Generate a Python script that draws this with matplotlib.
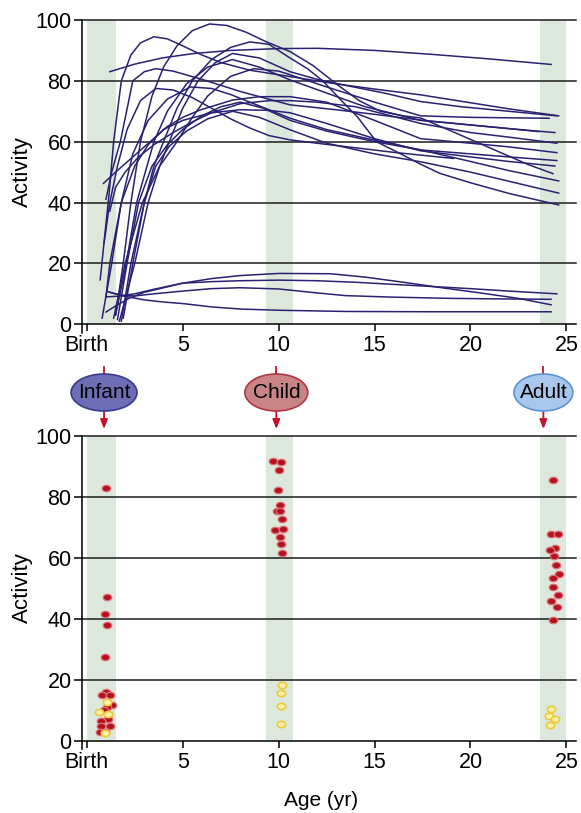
import matplotlib
matplotlib.use('Agg')
import matplotlib.pyplot as plt
from matplotlib.patches import Ellipse
from matplotlib.lines import Line2D
from matplotlib.path import Path
from matplotlib.transforms import Affine2D, blended_transform_factory

plt.rcParams['font.family'] = ['Liberation Sans', 'DejaVu Sans']

# Curvas de actividad por edad (panel superior)
curve_age = [
    [1.2, 2.5, 4.0, 5.6, 7.5, 10, 12, 15, 18, 21, 24.2],
    [0.7, 0.95, 1.15, 1.4, 1.8, 2.3, 2.8, 3.5, 4.2, 5.0, 6.0, 7.0, 8.5, 10.6, 13, 15, 17.4, 20, 22, 24.6],
    [1.5, 1.9, 2.3, 2.8, 3.4, 4.0, 4.7, 5.5, 6.4, 7.3, 8.3, 9.3, 10.6, 11.8, 13, 14.2, 15.3, 16.5, 17.4, 19, 21, 23, 24.3],
    [1.9, 2.4, 3.0, 3.5, 4.0, 4.7, 5.5, 6.5, 7.5, 8.5, 9.5, 10.6, 11.5, 12.3, 13.2, 14.1, 15.1, 16.3, 17.4, 18.4, 20, 22, 24.6],
    [1.7, 2.5, 3.2, 3.8, 4.3, 5.0, 5.8, 6.7, 7.6, 9.0, 10.6, 12, 13.5, 15.5, 17.4, 19.5, 22, 24.5],
    [1.5, 2.0, 2.6, 3.5, 4.2, 5.2, 6.3, 7.6, 9.0, 10.6, 12.5, 14.5, 17.4, 20, 22, 24.4],
    [1.0, 1.3, 1.75, 2.4, 3.0, 3.6, 4.5, 6, 8, 10.6, 13, 15, 17.4, 20, 22, 23.57],
    [1.4, 2.0, 2.9, 3.8, 4.7, 5.5, 6.3, 7.5, 8.7, 10.0, 10.6, 12.5, 15, 17.4, 20, 24.1],
    [0.9, 1.2, 1.6, 2.1, 2.8, 3.6, 4.5, 5.5, 6.5, 7.5, 8.5, 9.5, 10.6, 12, 14, 16, 19.1],
    [0.87, 1.5, 2.4, 3.3, 4.2, 5.0, 5.9, 7.6, 9, 10.6, 12.5, 15, 17.4, 20, 22, 24.5],
    [0.8, 1.3, 1.8, 2.4, 3.2, 4.2, 5.4, 6.5, 7.5, 8.5, 9.5, 10.6, 12.5, 15, 17.4, 20, 22, 24.6],
    [1.2, 1.5, 2.0, 2.7, 3.5, 4.5, 5.5, 6.5, 8, 9.5, 10.6, 12, 14, 17.4, 20, 22, 24.5],
    [1.6, 2.1, 2.7, 3.4, 4.2, 5.0, 6.0, 7.0, 8.0, 9.2, 10.6, 12.5, 15, 17.4, 20, 22, 24.5],
    [1.8, 2.3, 3.0, 3.6, 4.3, 5.2, 6.3, 7.6, 9, 10.6, 12.5, 15, 17.4, 20, 22, 24.6],
    [1.0, 1.2, 1.8, 2.5, 3.2, 4.0, 5, 6.5, 8, 9.5, 10.6, 12.5, 15, 17.4, 20, 22, 24.4],
    [1.0, 1.5, 2.2, 3.0, 4.0, 5.0, 6.5, 8.0, 10.0, 12.7, 14.5, 16.5, 18.5, 20.5, 22.5, 24.2],
    [1.0, 1.6, 2.5, 3.5, 5.0, 6.5, 8.0, 10.0, 12.0, 14.0, 16.0, 18.0, 20.0, 22.0, 24.5],
    [1.2, 1.8, 2.5, 3.5, 5.0, 6.5, 8.0, 10.0, 12.0, 13.5, 16.0, 19.0, 22.0, 24.2],
    [1.1, 1.9, 3.0, 4.0, 5.0, 6.5, 8.0, 10.0, 13.5, 18.0, 24.2],
]
curve_act = [
    [83, 85.5, 87.6, 89, 90, 90.6, 90.7, 90, 88.7, 87.2, 85.4],
    [14.6, 30, 42, 60, 80, 88.5, 92.5, 94.5, 93.8, 91.5, 88.5, 86, 83.5, 81.4, 79, 77.3, 75.4, 72.8, 70.8, 68.5],
    [3, 20, 40, 60, 75, 84.5, 91.5, 96.5, 98.7, 98.2, 96, 93, 89.6, 85, 79, 73.5, 70, 68.5, 67.8, 63.5, 58, 52.5, 49.5],
    [2, 20, 40, 52, 60, 71, 80, 87, 91, 92.8, 92, 87.5, 84, 80, 74, 68.2, 60, 56.2, 52.6, 49.6, 46.5, 43, 39.2],
    [1, 20, 40, 52, 60, 71, 80, 86, 89, 87.5, 83, 80.5, 78.5, 76, 73.2, 71.5, 70, 68.5],
    [3, 18, 40, 60, 70, 79, 84.5, 87, 84.5, 80.3, 76, 71.5, 67, 65.5, 64.3, 63.0],
    [41.1, 50, 60, 80, 83, 84, 83.2, 80.5, 76.5, 72.1, 70.5, 69, 67.1, 65.5, 64.3, 63.3],
    [2, 20, 40, 52, 60, 68, 75, 81.5, 84, 83.2, 82, 78, 73, 68.5, 68, 67.7],
    [26.6, 40, 52, 64, 73.5, 77.5, 77, 74.5, 71, 67.5, 64.5, 62, 60.6, 59.5, 58, 56.5, 54.5],
    [46.3, 50, 55, 60, 65, 68, 70.4, 73.7, 74.8, 74.8, 73, 67, 61, 59.5, 58.3, 56.4],
    [2, 20, 40, 56, 67, 74, 78, 77.5, 75.5, 73, 70.5, 67.7, 64, 60.5, 57.3, 53.5, 50.5, 47.1],
    [37.2, 45, 50, 55, 59, 63, 66.5, 69.5, 72.5, 73.5, 73.5, 73, 71.5, 66, 63, 61.5, 59.5],
    [1.5, 20, 40, 52, 59, 64, 68.5, 71.5, 73, 71, 67, 63.5, 60, 57.3, 56, 55, 53.8],
    [1, 20, 40, 52, 58.5, 63.5, 67.5, 70, 68, 63.9, 59.5, 56, 53.4, 50, 47, 43.1],
    [9, 20, 40, 52, 59, 64, 67, 69.5, 70.5, 70.3, 69.5, 66, 61, 57, 55, 53.5, 52.0],
    [4, 6, 8.5, 10.5, 12, 13.5, 15, 16, 16.7, 16.6, 15.5, 13.8, 12.0, 10.3, 8.5, 6.4],
    [9, 9.2, 10, 11.5, 13.5, 14, 14.3, 14.5, 14.3, 13.8, 13.1, 12.4, 11.7, 10.9, 10.0],
    [10.5, 9.5, 9.3, 10, 10.9, 11.7, 12.0, 11.6, 10.3, 9.4, 8.9, 8.5, 8.3, 8.2],
    [10.7, 9.3, 8.0, 7.3, 6.8, 5.7, 5.0, 4.6, 4.2, 4.1, 4.1],
]

# Puntos individuales (panel inferior)
infant_red_age = [0.99, 1.04, 0.95, 1.06, 0.95, 1.0, 0.78, 1.2, 1.3, 1.04, 0.89, 1.09, 0.76, 0.76, 1.2, 0.69, 0.94]
infant_red_act = [82.9, 47.2, 41.5, 38.1, 27.6, 16.0, 14.9, 14.9, 11.8, 11.2, 10.1, 7.1, 6.5, 4.7, 4.7, 2.8, 2.8]
infant_yel_age = [1.06, 0.63, 1.09, 0.94]
infant_yel_act = [12.8, 9.4, 8.9, 2.6]

child_red_age = [9.69, 10.14, 10.03, 9.98, 10.08, 9.93, 10.06, 10.17, 9.81, 10.21, 10.07, 10.1, 10.16]
child_red_act = [91.8, 91.5, 88.7, 82.4, 77.3, 75.4, 75.3, 72.8, 69.3, 69.5, 67.0, 64.6, 61.6]
child_yel_age = [10.16, 10.14, 10.12, 10.1]
child_yel_act = [18.2, 15.8, 11.4, 5.4]

adult_red_age = [24.32, 24.18, 24.56, 24.39, 24.13, 24.37, 24.48, 24.61, 24.32, 24.29, 24.56, 24.53, 24.22, 24.32]
adult_red_act = [85.7, 67.9, 67.9, 63.3, 62.6, 60.5, 57.7, 54.7, 53.5, 50.5, 47.8, 43.8, 45.7, 39.6]
adult_yel_age = [24.18, 24.08, 24.39, 24.13]
adult_yel_act = [10.5, 8.2, 7.0, 5.3]

# Etapas
stage_names = ['Infant', 'Child', 'Adult']
stage_age = [0.9, 9.88, 23.8]
stage_bands = [(0.0, 1.5), (9.35, 10.75), (23.6, 25.0)]
stage_fill = ['#6c6db4', '#c98585', '#a9c7ec']
stage_edge = ['#3b3a8e', '#b03545', '#5b93d6']
stage_width = [3.44, 3.28, 3.07]

xticks = [0, 5, 10, 15, 20, 25]
xlabels = ['Birth', '5', '10', '15', '20', '25']
yticks = [0, 20, 40, 60, 80, 100]

line_color = '#2a2172'
red = '#c2122c'

fig = plt.figure(figsize=(5.81, 8.13), dpi=100)
ax1 = fig.add_axes([0.1411, 0.5907, 0.8503, 0.3847])
ax2 = fig.add_axes([0.1411, 0.0785, 0.8503, 0.3852])

for ax in [ax1, ax2]:
    for x0, x1 in stage_bands:
        ax.fill_between([x0, x1], 0, 100, color='#dde8dc', lw=0, zorder=0)
    for y in yticks[1:]:
        ax.axhline(y, color='#1c1c1c', lw=1.1, zorder=1, clip_on=False)
    ax.set_xlim(-0.25, 25.5)
    ax.set_ylim(-2.8, 100)
    ax.spines['top'].set_visible(False)
    ax.spines['right'].set_visible(False)
    ax.spines['bottom'].set_position(('data', 0))
    ax.spines['left'].set_linewidth(1.1)
    ax.spines['bottom'].set_linewidth(1.1)
    ax.set_xticks(xticks)
    ax.set_xticklabels(xlabels)
    ax.set_yticks(yticks)
    ax.tick_params(axis='x', direction='out', length=5, width=1.1, pad=3, labelsize=15.5)
    ax.tick_params(axis='y', direction='out', length=6, width=1.1, pad=1.5, labelsize=15.5)

for ages, acts in zip(curve_age, curve_act):
    ax1.plot(ages, acts, color=line_color, lw=1.1, zorder=3, solid_joinstyle='round')

# marcador eliptico
ell = Affine2D().scale(1, 0.75).transform_path(Path.unit_circle())
red_ages = infant_red_age + child_red_age + adult_red_age
red_acts = infant_red_act + child_red_act + adult_red_act
yel_ages = infant_yel_age + child_yel_age + adult_yel_age
yel_acts = infant_yel_act + child_yel_act + adult_yel_act
ax2.plot(red_ages, red_acts, ls='none', marker=ell, ms=6.2, mfc='#b3121f', mec='#de7078', mew=0.9, zorder=4, clip_on=False)
ax2.plot(yel_ages, yel_acts, ls='none', marker=ell, ms=6.0, mfc='#fdf3a8', mec='#f0c63a', mew=1.2, zorder=4, clip_on=False)

# Etiquetas de etapa entre paneles
trans = blended_transform_factory(ax2.transData, fig.transFigure)
for name, x, w, fc, ec in zip(stage_names, stage_age, stage_width, stage_fill, stage_edge):
    fig.add_artist(Line2D([x, x], [1 - 367 / 813, 1 - 375 / 813], transform=trans, color=red, lw=1.3))
    fig.add_artist(Ellipse((x, 1 - 392.5 / 813), width=w, height=37 / 813, transform=trans,
                           facecolor=fc, edgecolor=ec, lw=1.2, zorder=2))
    fig.text(x, 1 - 392.5 / 813, name, transform=trans, ha='center', va='center', fontsize=15, zorder=5)
    ax2.annotate('', xy=(x, 1 - 429 / 813), xytext=(x, 1 - 411 / 813), xycoords=trans, textcoords=trans,
                 arrowprops=dict(arrowstyle='-|>,head_length=0.55,head_width=0.22', color=red, lw=1.3,
                                 shrinkA=0, shrinkB=0), annotation_clip=False)

fig.text(22 / 581, 1 - 172 / 813, 'Activity', rotation=90, ha='center', va='center', fontsize=16)
fig.text(22 / 581, 1 - 588 / 813, 'Activity', rotation=90, ha='center', va='center', fontsize=16)
fig.text(321 / 581, 1 - 800 / 813, 'Age (yr)', ha='center', va='center', fontsize=15)

fig.savefig('out.png', dpi=100)
